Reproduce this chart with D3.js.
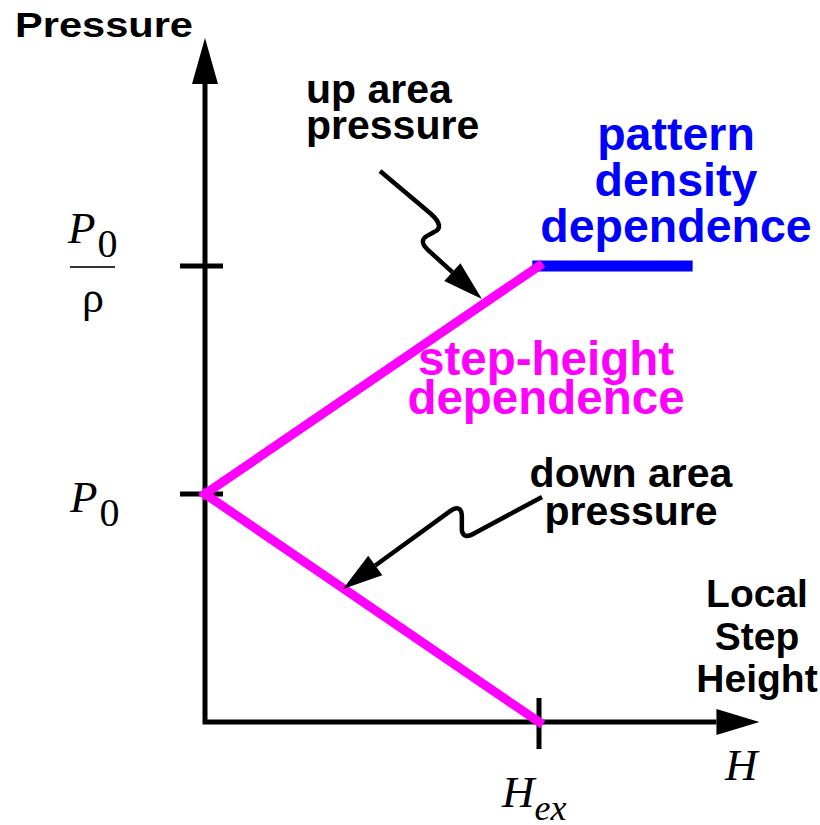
<!DOCTYPE html>
<html>
<head>
<meta charset="utf-8">
<script src="https://cdnjs.cloudflare.com/ajax/libs/d3/7.8.5/d3.min.js"></script>
<style>
  html, body { margin: 0; padding: 0; background: #fff; }
  svg { display: block; }
</style>
</head>
<body>
<div id="chart"></div>
<script>
// values in chart units: H scaled so H_ex = 1, pressure scaled so P0 = 1
const heightPts = [0, 1];            // 0 .. H_ex
const upPressure = [1, 2];           // P0 -> P0/rho
const downPressure = [1, 0];         // P0 -> 0
const plateauH = [0.98, 1.46];
const plateauP = [2, 2];
const yTickValues = [1, 2];
const xTickValues = [1];
const axisEnds = [1.66, 3.0];        // arrow tips (x, y)

// annotation arrows, in chart units: M / L / Q commands, last entry is the tip
const upArrow = [
  ["M", 0.524, 2.417], ["L", 0.677, 2.228], ["Q", 0.719, 2.171, 0.686, 2.149],
  ["L", 0.665, 2.132], ["Q", 0.638, 2.110, 0.668, 2.070], ["T", 0.829, 1.855]
];
const downArrow = [
  ["M", 1.009, 0.987], ["L", 0.808, 0.829], ["Q", 0.772, 0.798, 0.769, 0.842],
  ["L", 0.769, 0.908], ["Q", 0.766, 0.956, 0.734, 0.925], ["T", 0.413, 0.583]
];

const width = 820, height = 825;
const sans = "'Liberation Sans', Arial, Helvetica, sans-serif";
const serif = "'Liberation Serif', 'Times New Roman', serif";

const x = d3.scaleLinear().domain([0, 1]).range([205, 539]);
const y = d3.scaleLinear().domain([0, 2]).range([722, 266]);

const svg = d3.select("#chart").append("svg")
    .attr("width", width)
    .attr("height", height);

function headPoints(tip, from, len, half) {
    const dx = tip[0] - from[0], dy = tip[1] - from[1];
    const d = Math.hypot(dx, dy);
    const ux = dx / d, uy = dy / d;
    const bx = tip[0] - ux * len, by = tip[1] - uy * len;
    return {
        base: [bx, by],
        pts: [tip, [bx - uy * half, by + ux * half], [bx + uy * half, by - ux * half]]
    };
}

// axes
const yTop = headPoints([x(0), y(axisEnds[1])], [x(0), y(0)], 46, 13);
const xEnd = headPoints([x(axisEnds[0]), y(0)], [x(0), y(0)], 43, 13);

svg.append("path")
    .attr("d", `M${yTop.base[0]},${yTop.base[1]}L${x(0)},${y(0)}L${xEnd.base[0]},${xEnd.base[1]}`)
    .attr("fill", "none")
    .attr("stroke", "#000")
    .attr("stroke-width", 5)
    .attr("stroke-linejoin", "miter");

[yTop, xEnd].forEach(h => {
    svg.append("polygon")
        .attr("points", h.pts.map(p => p.join(",")).join(" "))
        .attr("fill", "#000");
});

// ticks
svg.selectAll(".ytick").data(yTickValues).enter().append("line")
    .attr("x1", x(0) - 25).attr("x2", x(0) + 18)
    .attr("y1", d => y(d)).attr("y2", d => y(d))
    .attr("stroke", "#000").attr("stroke-width", 5);

svg.selectAll(".xtick").data(xTickValues).enter().append("line")
    .attr("x1", d => x(d)).attr("x2", d => x(d))
    .attr("y1", y(0) - 24).attr("y2", y(0) + 27)
    .attr("stroke", "#000").attr("stroke-width", 5);

// lines
const line = d3.line().x(d => x(d[0])).y(d => y(d[1]));

svg.append("path")
    .attr("d", line(d3.zip(plateauH, plateauP)))
    .attr("stroke", "#0000ff")
    .attr("stroke-width", 11)
    .attr("fill", "none");

[upPressure, downPressure].forEach(p => {
    svg.append("path")
        .attr("d", line(d3.zip(heightPts, p)))
        .attr("stroke", "#ff00ff")
        .attr("stroke-width", 9)
        .attr("stroke-linecap", "square")
        .attr("fill", "none");
});

// annotation arrows
function drawArrow(cmds) {
    let d = "";
    let prev = null;
    cmds.forEach(c => {
        if (c[0] === "M" || c[0] === "L") {
            d += `${c[0]}${x(c[1])},${y(c[2])}`;
            prev = [x(c[1]), y(c[2])];
        } else if (c[0] === "Q") {
            d += `Q${x(c[1])},${y(c[2])} ${x(c[3])},${y(c[4])}`;
            prev = [x(c[3]), y(c[4])];
        } else if (c[0] === "T") {
            const h = headPoints([x(c[1]), y(c[2])], prev, 40, 12);
            d += `L${h.base[0]},${h.base[1]}`;
            svg.append("polygon")
                .attr("points", h.pts.map(p => p.join(",")).join(" "))
                .attr("fill", "#000");
        }
    });
    svg.insert("path", "polygon:last-of-type")
        .attr("d", d)
        .attr("fill", "none")
        .attr("stroke", "#000")
        .attr("stroke-width", 4.5)
        .attr("stroke-linejoin", "round");
}
drawArrow(upArrow);
drawArrow(downArrow);

// text
function label(lines, cx, y0, step, size, color, anchor) {
    lines.forEach((t, i) => {
        svg.append("text")
            .attr("x", cx)
            .attr("y", y0 + i * step)
            .attr("text-anchor", anchor || "middle")
            .attr("font-family", sans)
            .attr("font-weight", "bold")
            .attr("font-size", size)
            .attr("fill", color)
            .text(t);
    });
}

svg.append("text")
    .attr("x", 15).attr("y", 37)
    .attr("font-family", sans).attr("font-weight", "bold")
    .attr("font-size", 35)
    .attr("textLength", 178).attr("lengthAdjust", "spacingAndGlyphs")
    .text("Pressure");

label(["up area", "pressure"], 306, 103, 36, 41, "#000", "start");
label(["pattern", "density", "dependence"], 676, 150, 46, 46.5, "#0000ff");
label(["step-height", "dependence"], 546, 375, 39, 47.5, "#ff00ff");
label(["down area", "pressure"], 631, 487, 38, 41, "#000");
label(["Local", "Step", "Height"], 757, 607, 42.5, 39, "#000");

// math labels
function mathText(xp, yp, parts) {
    const t = svg.append("text")
        .attr("x", xp).attr("y", yp)
        .attr("font-family", serif);
    parts.forEach(p => {
        t.append("tspan")
            .attr("font-size", p.size)
            .attr("font-style", p.italic ? "italic" : "normal")
            .attr("dy", p.dy || 0)
            .attr("dx", p.dx || 0)
            .text(p.t);
    });
}

// P0 / rho
mathText(68, y(2) - 23, [{t: "P", size: 45, italic: true}, {t: "0", size: 40, dy: 14, dx: 2}]);
svg.append("line")
    .attr("x1", 70).attr("x2", 115)
    .attr("y1", y(2) + 1).attr("y2", y(2) + 1)
    .attr("stroke", "#333").attr("stroke-width", 2);
mathText(82, y(2) + 46, [{t: "ρ", size: 44}]);

// P0
mathText(70, y(1) + 18, [{t: "P", size: 45, italic: true}, {t: "0", size: 40, dy: 14, dx: 2}]);

// H and H_ex
mathText(725, y(0) + 58, [{t: "H", size: 45, italic: true}]);
mathText(x(1) - 37, y(0) + 85, [{t: "H", size: 45, italic: true}, {t: "ex", size: 36, italic: true, dy: 13}]);
</script>
</body>
</html>
